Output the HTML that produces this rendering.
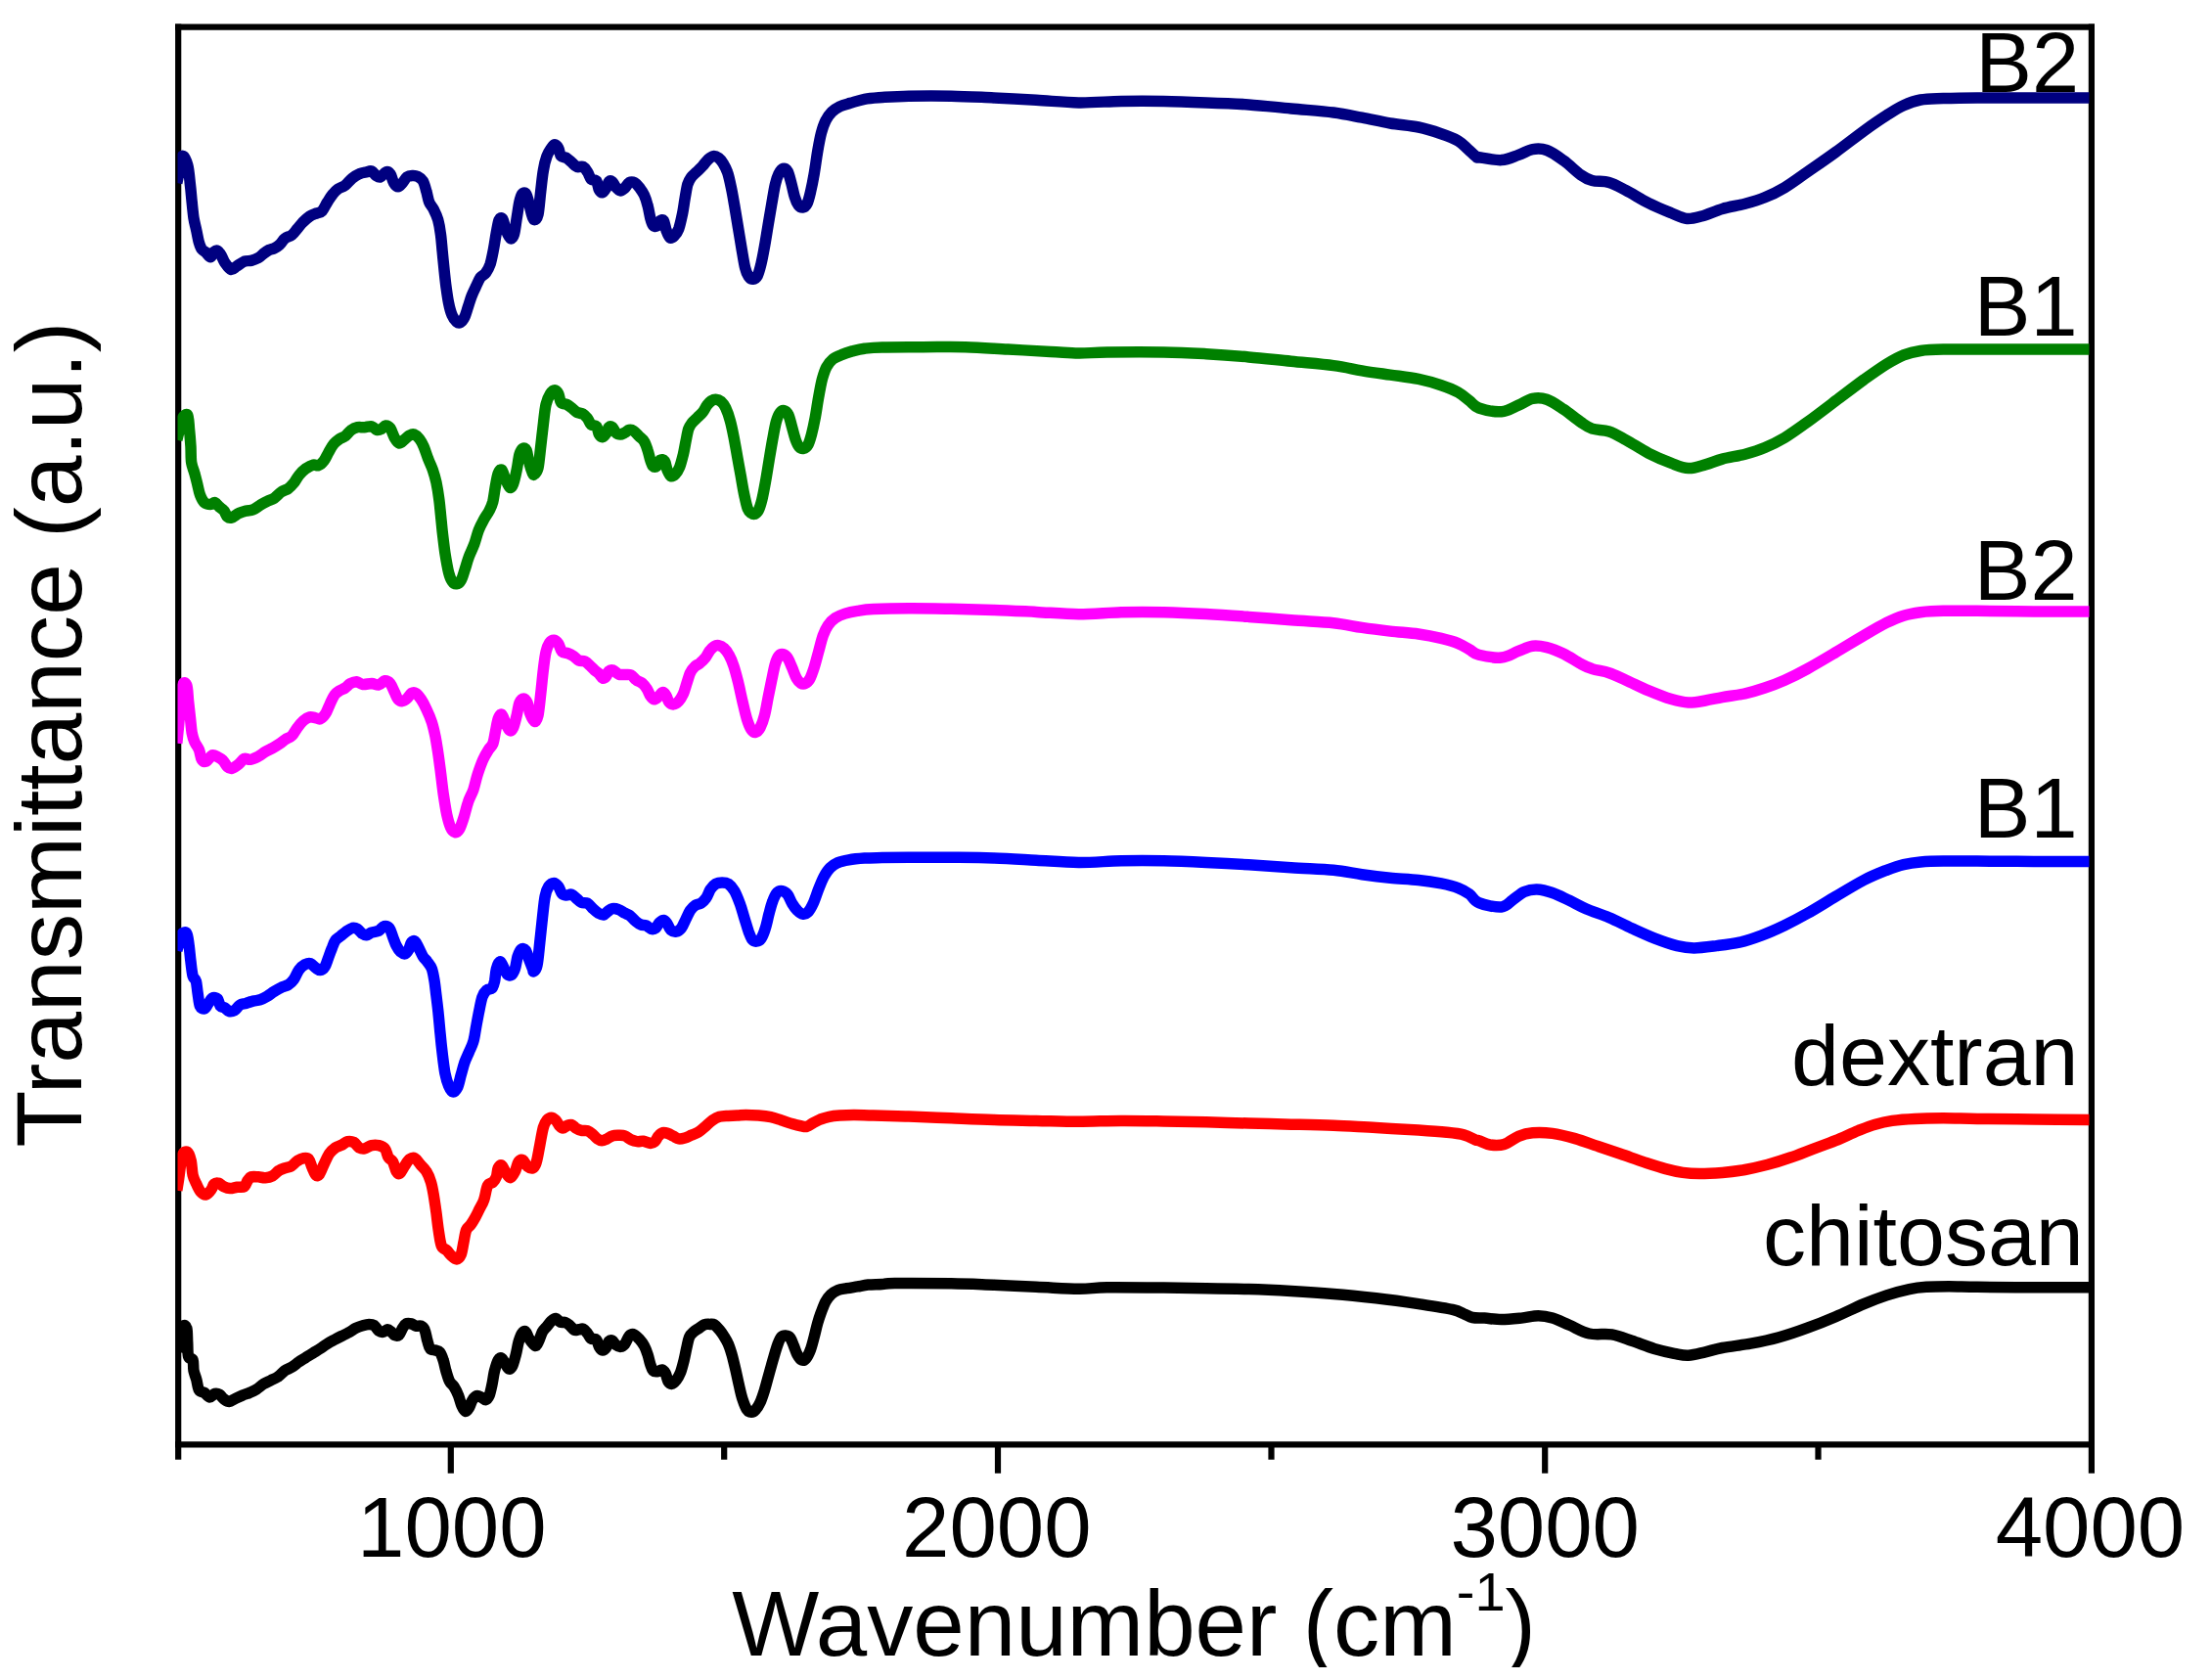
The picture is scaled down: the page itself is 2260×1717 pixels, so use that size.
<!DOCTYPE html>
<html><head><meta charset="utf-8"><title>FTIR spectra</title>
<style>
html,body{margin:0;padding:0;background:#fff;}
body{width:2260px;height:1717px;overflow:hidden;}
svg{display:block;}
text{font-family:"Liberation Sans",Arial,Helvetica,sans-serif;fill:#000;}
.t{font-size:87px;}

</style></head><body>
<svg width="2260" height="1717" viewBox="0 0 2260 1717">
<rect x="0" y="0" width="2260" height="1717" fill="#fff"/>
<defs><clipPath id="cl"><rect x="0" y="1500" width="2260" height="204"/></clipPath><clipPath id="cp"><rect x="181.5" y="27" width="1954" height="1449"/></clipPath></defs>
<g fill="none" stroke="#000" stroke-width="6.2" stroke-linecap="butt">
<path d="M179.1 27.55H2141"/>
<path d="M179.1 1476.35H2141"/>
<path d="M182.2 24.5V1491.7"/>
<path d="M2137.9 24.5V1505.8"/>
<path d="M460.8 1476V1505.8M1020 1476V1505.8M1579.2 1476V1505.8"/>
<path d="M740.2 1476V1491.7M1299.5 1476V1491.7M1858.5 1476V1491.7"/>
</g>
<g fill="none" stroke-width="11.5" stroke-linejoin="round" stroke-linecap="butt" clip-path="url(#cp)">
<path d="M180.8 1381.1C181.3 1379.3 182.5 1374.3 183.6 1370.1C184.6 1365.8 186.0 1357.7 187.2 1355.6C188.4 1353.5 190.1 1354.7 190.8 1357.4C191.6 1360.1 191.4 1367.0 191.7 1371.9C192.0 1376.7 191.7 1383.3 192.6 1386.3C193.5 1389.4 196.2 1387.5 197.1 1390.0C198.0 1392.4 197.4 1397.5 198.0 1400.8C198.6 1404.1 199.9 1406.5 200.8 1409.9C201.7 1413.2 202.1 1418.5 203.5 1420.7C204.8 1423.0 207.1 1422.2 208.9 1423.4C210.7 1424.6 212.5 1427.8 214.3 1428.0C216.1 1428.1 218.1 1424.8 219.8 1424.3C221.4 1423.9 222.8 1424.3 224.3 1425.2C225.8 1426.1 227.1 1428.6 228.8 1429.8C230.5 1431.0 232.3 1432.5 234.2 1432.5C236.2 1432.4 238.3 1430.5 240.6 1429.4C242.8 1428.3 245.4 1427.1 247.8 1426.1C250.2 1425.1 252.6 1424.5 255.0 1423.4C257.4 1422.4 259.9 1421.3 262.3 1419.8C264.7 1418.3 267.1 1415.9 269.5 1414.4C271.9 1412.9 274.3 1412.0 276.7 1410.8C279.2 1409.6 281.6 1408.8 284.0 1407.1C286.4 1405.5 288.8 1402.5 291.2 1400.8C293.6 1399.2 296.0 1398.7 298.4 1397.2C300.9 1395.7 303.3 1393.4 305.7 1391.8C308.1 1390.1 310.5 1388.8 312.9 1387.2C315.3 1385.7 317.7 1384.2 320.2 1382.7C322.6 1381.2 325.0 1379.8 327.4 1378.2C329.8 1376.6 332.2 1374.8 334.6 1373.3C337.0 1371.8 339.5 1370.5 341.9 1369.2C344.3 1367.9 346.7 1366.7 349.1 1365.5C351.5 1364.3 353.9 1363.3 356.3 1361.9C358.8 1360.6 361.2 1358.6 363.6 1357.4C366.0 1356.2 368.6 1355.3 370.8 1354.7C373.1 1354.0 375.2 1353.4 377.1 1353.4C379.1 1353.4 380.9 1353.6 382.6 1354.7C384.2 1355.8 385.6 1359.0 387.1 1360.1C388.6 1361.2 390.1 1361.6 391.6 1361.4C393.1 1361.2 394.8 1358.9 396.1 1358.8C397.5 1358.8 398.6 1360.0 399.8 1361.0C401.0 1362.0 402.0 1364.1 403.4 1364.6C404.7 1365.2 406.5 1365.5 407.9 1364.3C409.3 1363.1 410.3 1359.3 411.5 1357.4C412.7 1355.5 413.6 1353.6 415.1 1352.9C416.6 1352.1 418.9 1352.5 420.6 1352.9C422.2 1353.3 423.4 1354.8 425.1 1355.2C426.7 1355.6 429.0 1354.6 430.5 1355.2C432.0 1355.9 433.1 1356.7 434.1 1359.2C435.2 1361.7 435.9 1366.9 436.8 1370.1C437.8 1373.2 438.2 1376.5 439.6 1378.2C440.9 1379.9 443.3 1379.4 445.0 1380.0C446.6 1380.6 448.2 1380.2 449.5 1381.8C450.9 1383.5 452.1 1386.8 453.1 1390.0C454.2 1393.1 454.8 1397.2 455.8 1400.8C456.9 1404.4 458.1 1409.0 459.5 1411.7C460.8 1414.4 462.5 1414.7 464.0 1417.1C465.5 1419.5 467.2 1422.8 468.5 1426.1C469.9 1429.5 470.9 1434.3 472.1 1437.0C473.3 1439.7 474.5 1442.1 475.7 1442.4C477.0 1442.7 478.2 1440.8 479.4 1438.8C480.6 1436.8 481.6 1432.7 483.0 1430.7C484.3 1428.6 486.0 1427.0 487.5 1426.5C489.0 1426.1 490.5 1427.3 492.0 1428.0C493.5 1428.6 495.2 1431.0 496.5 1430.7C497.9 1430.4 499.1 1428.7 500.2 1426.1C501.2 1423.6 502.0 1419.5 502.9 1415.3C503.8 1411.1 504.5 1405.0 505.6 1400.8C506.7 1396.6 508.0 1392.1 509.2 1390.0C510.4 1387.8 511.6 1387.5 512.8 1388.2C514.0 1388.8 515.2 1391.8 516.4 1393.6C517.7 1395.4 518.9 1398.6 520.1 1399.0C521.3 1399.5 522.5 1398.7 523.7 1396.3C524.9 1393.9 526.2 1388.6 527.3 1384.5C528.4 1380.5 529.0 1375.5 530.0 1371.9C531.1 1368.2 532.4 1364.6 533.6 1362.8C534.8 1361.0 536.0 1360.1 537.3 1361.0C538.5 1361.9 539.2 1365.8 540.9 1368.2C542.5 1370.7 545.6 1375.2 547.2 1375.5C548.9 1375.8 549.6 1372.5 550.9 1370.1C552.1 1367.6 553.1 1363.4 554.5 1361.0C555.8 1358.6 557.5 1357.4 559.0 1355.6C560.5 1353.8 562.0 1351.5 563.5 1350.2C565.0 1348.8 566.5 1347.3 568.0 1347.4C569.5 1347.6 570.9 1350.4 572.6 1351.1C574.2 1351.8 576.3 1351.0 578.0 1351.6C579.7 1352.2 581.0 1353.4 582.5 1354.7C584.0 1355.9 585.5 1358.5 587.0 1359.2C588.5 1359.9 590.1 1359.0 591.6 1358.8C593.1 1358.7 594.6 1357.6 596.1 1358.3C597.6 1359.0 599.2 1361.2 600.6 1362.8C602.0 1364.5 602.7 1367.2 604.2 1368.2C605.7 1369.3 608.3 1367.8 609.7 1369.2C611.0 1370.5 611.3 1374.6 612.4 1376.4C613.4 1378.2 614.8 1379.9 616.0 1380.0C617.2 1380.2 618.5 1378.8 619.6 1377.3C620.7 1375.8 621.3 1372.2 622.3 1371.0C623.4 1369.8 624.7 1369.5 625.9 1370.1C627.1 1370.7 628.2 1373.5 629.6 1374.6C630.9 1375.6 632.6 1376.5 634.1 1376.4C635.6 1376.2 637.1 1375.5 638.6 1373.7C640.1 1371.9 641.6 1367.2 643.1 1365.5C644.6 1363.9 646.0 1363.3 647.6 1363.7C649.3 1364.2 651.3 1366.3 653.1 1368.2C654.9 1370.2 657.0 1372.8 658.5 1375.5C660.0 1378.2 661.1 1381.4 662.1 1384.5C663.2 1387.7 663.9 1391.8 664.8 1394.5C665.7 1397.2 666.3 1399.6 667.5 1400.8C668.8 1402.0 670.6 1401.9 672.1 1401.7C673.6 1401.6 675.2 1399.6 676.6 1399.9C677.9 1400.2 679.2 1401.6 680.2 1403.5C681.3 1405.5 681.9 1409.9 682.9 1411.7C684.0 1413.5 685.2 1414.5 686.5 1414.4C687.9 1414.2 689.6 1412.7 691.1 1410.8C692.6 1408.8 694.2 1406.1 695.6 1402.6C696.9 1399.2 698.1 1394.2 699.2 1390.0C700.3 1385.7 701.0 1381.2 701.9 1377.3C702.8 1373.4 703.4 1369.2 704.6 1366.4C705.8 1363.7 707.5 1362.5 709.2 1361.0C710.8 1359.5 712.8 1358.6 714.6 1357.4C716.4 1356.2 718.2 1354.4 720.0 1353.8C721.8 1353.1 723.8 1353.4 725.4 1353.4C727.1 1353.4 728.3 1352.8 730.0 1353.8C731.6 1354.7 733.7 1357.2 735.4 1359.2C737.0 1361.2 738.4 1363.1 739.9 1365.5C741.4 1367.9 743.1 1370.5 744.4 1373.7C745.8 1376.8 746.8 1380.3 748.1 1384.5C749.3 1388.8 750.5 1393.9 751.7 1399.0C752.9 1404.1 754.1 1410.2 755.3 1415.3C756.5 1420.4 757.5 1425.5 758.9 1429.8C760.3 1434.0 761.9 1438.4 763.4 1440.6C764.9 1442.9 766.4 1443.3 768.0 1443.3C769.5 1443.3 771.0 1442.3 772.5 1440.6C774.0 1439.0 775.5 1436.7 777.0 1433.4C778.5 1430.1 780.0 1425.5 781.5 1420.7C783.0 1415.9 784.5 1409.9 786.0 1404.4C787.6 1399.0 789.1 1393.3 790.6 1388.2C792.1 1383.0 793.7 1377.3 795.1 1373.7C796.4 1370.1 797.3 1367.9 798.7 1366.4C800.1 1365.0 801.7 1364.8 803.2 1365.0C804.7 1365.1 806.4 1365.6 807.8 1367.3C809.1 1369.1 810.2 1372.6 811.4 1375.5C812.6 1378.4 813.6 1382.1 815.0 1384.5C816.3 1386.9 818.0 1389.4 819.5 1390.0C821.0 1390.6 822.5 1390.0 824.0 1388.2C825.5 1386.3 827.2 1382.7 828.6 1379.1C829.9 1375.5 831.0 1371.0 832.2 1366.4C833.4 1361.9 834.6 1356.2 835.8 1352.0C837.0 1347.7 838.1 1344.7 839.4 1341.1C840.8 1337.5 842.3 1333.3 843.9 1330.3C845.6 1327.2 847.3 1325.0 849.4 1323.0C851.5 1321.1 853.9 1319.6 856.6 1318.5C859.3 1317.4 862.3 1317.3 865.6 1316.7C869.0 1316.1 872.9 1315.5 876.5 1314.9C880.1 1314.3 883.1 1313.5 887.4 1313.1C891.6 1312.7 897.3 1312.8 901.8 1312.5C906.3 1312.3 902.7 1311.6 914.5 1311.5C926.2 1311.4 955.5 1311.5 972.4 1311.8C989.3 1312.1 1001.3 1312.7 1015.8 1313.2C1030.3 1313.8 1044.7 1314.6 1059.2 1315.3C1073.7 1315.9 1090.6 1317.2 1102.6 1317.3C1114.7 1317.4 1117.1 1316.0 1131.6 1315.8C1146.0 1315.6 1172.6 1316.0 1189.5 1316.1C1206.3 1316.3 1218.4 1316.5 1232.9 1316.7C1247.4 1316.9 1261.8 1317.1 1276.3 1317.6C1290.8 1318.1 1305.2 1318.8 1319.7 1319.6C1334.2 1320.4 1348.7 1321.3 1363.1 1322.5C1377.6 1323.7 1392.1 1325.2 1406.6 1326.8C1421.0 1328.5 1437.0 1330.7 1450.0 1332.6C1463.0 1334.6 1477.0 1336.7 1484.7 1338.4C1492.4 1340.1 1492.9 1341.4 1496.3 1342.8C1499.7 1344.1 1501.5 1345.8 1505.0 1346.5C1508.5 1347.2 1512.4 1346.8 1517.4 1347.1C1522.3 1347.4 1528.5 1348.5 1534.7 1348.5C1541.0 1348.5 1548.7 1347.7 1555.0 1347.1C1561.3 1346.5 1567.1 1344.8 1572.4 1344.8C1577.7 1344.8 1581.5 1345.5 1586.8 1347.1C1592.1 1348.7 1597.9 1351.7 1604.2 1354.3C1610.5 1357.0 1617.2 1361.4 1624.5 1363.0C1631.7 1364.6 1640.4 1362.7 1647.6 1363.9C1654.9 1365.1 1660.7 1367.8 1667.9 1370.3C1675.1 1372.7 1683.8 1376.2 1691.0 1378.4C1698.3 1380.5 1705.5 1382.1 1711.3 1383.3C1717.1 1384.4 1720.5 1385.6 1725.8 1385.3C1731.1 1385.1 1737.4 1383.1 1743.1 1381.8C1748.9 1380.5 1752.8 1378.9 1760.5 1377.5C1768.2 1376.0 1779.8 1374.9 1789.5 1373.2C1799.1 1371.4 1808.8 1369.4 1818.4 1366.8C1828.1 1364.1 1837.7 1360.8 1847.4 1357.2C1857.0 1353.7 1866.7 1349.8 1876.3 1345.7C1885.9 1341.6 1896.6 1336.2 1905.2 1332.6C1913.9 1329.0 1920.7 1326.5 1928.4 1323.9C1936.1 1321.4 1944.8 1319.0 1951.6 1317.6C1958.3 1316.1 1962.2 1315.7 1968.9 1315.3C1975.7 1314.8 1983.4 1314.7 1992.1 1314.7C2000.8 1314.7 2006.6 1315.1 2021.0 1315.3C2035.5 1315.5 2059.1 1315.7 2078.9 1315.8C2098.8 1315.9 2129.5 1315.8 2140.0 1315.8C2150.5 1315.8 2141.7 1315.8 2142.0 1315.8" stroke="#000000"/>
<path d="M180.8 1216.7C181.1 1214.7 181.8 1210.6 182.7 1204.6C183.6 1198.7 184.8 1185.6 186.3 1181.1C187.8 1176.6 190.2 1176.6 191.7 1177.5C193.2 1178.4 194.4 1182.6 195.3 1186.5C196.2 1190.5 196.2 1197.1 197.1 1201.0C198.0 1204.9 199.4 1207.2 200.8 1210.1C202.1 1212.9 203.6 1216.4 205.3 1218.2C206.9 1220.0 208.9 1221.4 210.7 1220.9C212.5 1220.5 214.8 1217.3 216.1 1215.5C217.5 1213.7 217.6 1211.1 218.8 1210.1C220.1 1209.0 221.7 1208.7 223.4 1209.2C225.0 1209.6 226.8 1211.9 228.8 1212.8C230.8 1213.7 232.9 1214.5 235.1 1214.6C237.4 1214.7 240.0 1213.6 242.4 1213.3C244.8 1213.0 247.8 1213.9 249.6 1212.8C251.4 1211.6 252.0 1208.1 253.2 1206.4C254.4 1204.8 255.0 1203.4 256.8 1202.8C258.6 1202.2 261.7 1202.7 264.1 1202.8C266.5 1203.0 268.9 1203.9 271.3 1203.7C273.7 1203.6 276.3 1203.1 278.5 1201.9C280.8 1200.7 282.8 1197.8 284.9 1196.5C287.0 1195.1 289.1 1194.5 291.2 1193.8C293.3 1193.0 295.4 1193.2 297.5 1192.0C299.7 1190.8 301.8 1187.9 303.9 1186.5C306.0 1185.2 308.2 1184.1 310.2 1183.8C312.2 1183.5 314.1 1183.1 315.6 1184.7C317.1 1186.4 318.0 1191.1 319.3 1193.8C320.5 1196.5 321.7 1200.0 322.9 1201.0C324.1 1202.1 325.1 1201.9 326.5 1200.1C327.8 1198.3 329.4 1193.6 331.0 1190.2C332.7 1186.7 334.5 1182.2 336.4 1179.3C338.4 1176.4 340.7 1174.5 342.8 1173.0C344.9 1171.5 347.0 1171.3 349.1 1170.3C351.2 1169.2 353.3 1167.1 355.4 1166.6C357.5 1166.2 359.8 1166.5 361.8 1167.5C363.7 1168.6 365.4 1171.9 367.2 1173.0C369.0 1174.0 370.5 1174.3 372.6 1173.9C374.7 1173.5 377.4 1171.2 379.9 1170.6C382.3 1170.1 384.8 1170.1 387.1 1170.6C389.4 1171.2 391.8 1171.8 393.4 1173.9C395.1 1175.9 395.7 1180.7 397.0 1182.9C398.4 1185.2 400.2 1185.0 401.6 1187.4C402.9 1189.9 404.0 1195.4 405.2 1197.4C406.4 1199.4 407.4 1200.1 408.8 1199.2C410.2 1198.3 411.7 1194.4 413.3 1192.0C415.0 1189.6 416.9 1186.1 418.8 1184.7C420.6 1183.4 422.4 1182.9 424.2 1183.8C426.0 1184.7 427.7 1187.9 429.6 1190.2C431.6 1192.4 434.1 1194.4 435.9 1197.4C437.8 1200.4 439.3 1204.3 440.5 1208.2C441.7 1212.2 442.3 1215.8 443.2 1220.9C444.1 1226.0 445.0 1233.0 445.9 1239.0C446.7 1245.0 447.3 1251.4 448.2 1257.1C449.1 1262.8 449.9 1269.9 451.3 1273.4C452.7 1276.8 455.1 1276.2 456.7 1277.9C458.4 1279.6 459.6 1281.8 461.3 1283.3C462.9 1284.8 465.0 1287.1 466.7 1286.9C468.4 1286.8 470.0 1285.3 471.2 1282.4C472.4 1279.6 473.0 1274.0 473.9 1269.8C474.8 1265.5 475.4 1260.1 476.6 1257.1C477.9 1254.1 479.7 1253.8 481.2 1251.7C482.7 1249.6 484.2 1247.1 485.7 1244.4C487.2 1241.7 488.7 1238.4 490.2 1235.4C491.7 1232.4 493.4 1230.3 494.7 1226.3C496.1 1222.4 496.9 1214.9 498.4 1211.9C499.9 1208.9 502.3 1209.8 503.8 1208.2C505.3 1206.7 506.5 1205.2 507.4 1202.8C508.3 1200.4 508.3 1195.7 509.2 1193.8C510.1 1191.8 511.5 1190.2 512.8 1191.1C514.2 1192.0 515.8 1197.1 517.4 1199.2C518.9 1201.3 520.4 1204.0 521.9 1203.7C523.4 1203.4 525.0 1200.1 526.4 1197.4C527.8 1194.7 528.7 1189.4 530.0 1187.4C531.4 1185.5 533.0 1184.9 534.5 1185.6C536.0 1186.4 537.4 1190.6 539.1 1192.0C540.7 1193.3 543.0 1194.4 544.5 1193.8C546.0 1193.2 546.9 1192.3 548.1 1188.3C549.4 1184.4 550.6 1176.3 551.8 1170.3C553.0 1164.2 554.2 1156.4 555.4 1152.2C556.6 1147.9 557.6 1146.6 559.0 1144.9C560.4 1143.3 562.0 1142.2 563.5 1142.2C565.0 1142.2 566.7 1143.6 568.0 1144.9C569.4 1146.3 570.5 1149.0 571.7 1150.4C572.9 1151.7 573.9 1153.1 575.3 1153.1C576.6 1153.1 578.3 1151.0 579.8 1150.4C581.3 1149.8 582.8 1149.0 584.3 1149.5C585.8 1149.9 587.2 1152.1 588.8 1153.1C590.5 1154.1 592.3 1155.0 594.3 1155.4C596.2 1155.9 598.6 1155.1 600.6 1155.8C602.6 1156.4 604.4 1158.0 606.0 1159.4C607.7 1160.8 609.0 1162.9 610.6 1163.9C612.1 1165.0 613.4 1165.7 615.1 1165.7C616.7 1165.7 618.7 1164.7 620.5 1163.9C622.3 1163.1 624.0 1161.5 625.9 1160.9C627.9 1160.2 630.2 1160.3 632.3 1160.3C634.4 1160.3 636.5 1160.1 638.6 1160.9C640.7 1161.6 642.8 1163.9 644.9 1164.8C647.0 1165.8 649.2 1166.4 651.3 1166.6C653.4 1166.9 655.3 1166.0 657.6 1166.3C659.9 1166.6 662.9 1168.4 664.8 1168.4C666.8 1168.5 668.0 1167.8 669.4 1166.6C670.7 1165.4 671.6 1162.7 673.0 1161.2C674.3 1159.7 675.8 1158.0 677.5 1157.6C679.2 1157.1 681.1 1157.9 682.9 1158.5C684.7 1159.1 686.5 1160.3 688.3 1161.2C690.2 1162.1 691.8 1163.6 693.8 1163.9C695.7 1164.2 698.0 1163.6 700.1 1163.0C702.2 1162.4 704.2 1161.3 706.4 1160.3C708.7 1159.3 711.3 1158.7 713.7 1157.2C716.1 1155.7 718.5 1153.3 720.9 1151.3C723.3 1149.2 725.7 1146.6 728.2 1144.9C730.6 1143.3 732.7 1142.1 735.4 1141.3C738.1 1140.6 741.4 1140.6 744.4 1140.4C747.4 1140.2 750.5 1140.2 753.5 1140.0C756.5 1139.9 758.9 1139.5 762.5 1139.5C766.1 1139.5 771.0 1139.7 775.2 1140.0C779.4 1140.4 783.9 1140.9 787.9 1141.7C791.8 1142.5 795.1 1143.8 798.7 1144.9C802.3 1146.1 806.2 1147.6 809.6 1148.5C812.9 1149.5 816.0 1150.3 818.6 1150.7C821.2 1151.2 822.8 1151.8 824.9 1151.3C827.0 1150.7 829.0 1148.8 831.3 1147.6C833.5 1146.4 835.8 1145.1 838.5 1144.0C841.2 1143.0 844.2 1142.0 847.6 1141.3C850.9 1140.6 854.2 1140.3 858.4 1140.0C862.6 1139.7 867.2 1139.5 872.9 1139.5C878.6 1139.5 883.4 1139.8 892.8 1140.0C902.1 1140.3 915.7 1140.6 928.9 1141.0C942.2 1141.5 957.9 1142.2 972.4 1142.8C986.8 1143.4 1001.3 1144.1 1015.8 1144.5C1030.3 1145.0 1044.7 1145.1 1059.2 1145.4C1073.7 1145.7 1088.2 1146.3 1102.6 1146.3C1117.1 1146.3 1131.6 1145.4 1146.0 1145.4C1160.5 1145.3 1175.0 1145.7 1189.5 1146.0C1203.9 1146.2 1218.4 1146.5 1232.9 1146.8C1247.4 1147.2 1261.8 1147.6 1276.3 1148.0C1290.8 1148.4 1305.2 1148.8 1319.7 1149.2C1334.2 1149.5 1348.7 1149.7 1363.1 1150.3C1377.6 1150.9 1392.1 1151.9 1406.6 1152.6C1421.0 1153.4 1437.9 1154.2 1450.0 1154.9C1462.0 1155.7 1471.2 1156.4 1478.9 1157.3C1486.6 1158.1 1491.5 1158.6 1496.3 1159.9C1501.1 1161.1 1505.3 1163.8 1507.9 1164.8C1510.4 1165.8 1509.0 1164.8 1511.6 1165.7C1514.1 1166.5 1518.8 1169.4 1523.2 1170.0C1527.5 1170.6 1532.8 1170.9 1537.6 1169.4C1542.5 1168.0 1547.3 1163.2 1552.1 1161.3C1556.9 1159.4 1560.8 1158.3 1566.6 1157.8C1572.4 1157.4 1579.6 1157.5 1586.8 1158.4C1594.1 1159.4 1602.3 1161.5 1610.0 1163.6C1617.7 1165.8 1625.4 1168.8 1633.2 1171.4C1640.9 1174.0 1648.6 1176.6 1656.3 1179.3C1664.0 1181.9 1671.7 1184.8 1679.5 1187.4C1687.2 1189.9 1695.9 1192.8 1702.6 1194.6C1709.4 1196.4 1714.2 1197.5 1720.0 1198.4C1725.8 1199.2 1730.6 1199.5 1737.4 1199.5C1744.1 1199.5 1752.8 1199.0 1760.5 1198.4C1768.2 1197.7 1776.0 1196.8 1783.7 1195.5C1791.4 1194.1 1799.1 1192.3 1806.8 1190.3C1814.5 1188.2 1822.3 1185.7 1830.0 1183.0C1837.7 1180.4 1845.4 1177.2 1853.1 1174.3C1860.9 1171.4 1868.6 1168.8 1876.3 1165.7C1884.0 1162.5 1892.7 1158.3 1899.5 1155.5C1906.2 1152.8 1911.0 1150.8 1916.8 1149.2C1922.6 1147.5 1927.4 1146.4 1934.2 1145.4C1940.9 1144.4 1948.7 1143.8 1957.3 1143.4C1966.0 1142.9 1975.7 1142.8 1986.3 1142.8C1996.9 1142.8 2005.6 1143.2 2021.0 1143.4C2036.5 1143.6 2059.1 1143.8 2078.9 1143.9C2098.8 1144.1 2129.5 1144.4 2140.0 1144.5C2150.5 1144.6 2141.7 1144.5 2142.0 1144.5" stroke="#ff0000"/>
<path d="M180.8 971.7C181.1 970.5 181.9 967.6 182.7 964.8C183.4 962.0 184.0 956.7 185.4 954.9C186.7 953.1 189.5 952.0 190.8 954.0C192.1 955.9 192.5 961.8 193.2 966.6C193.9 971.5 194.3 977.8 195.0 982.9C195.6 988.0 196.2 994.1 197.1 997.4C198.0 1000.7 199.5 999.8 200.4 1002.8C201.2 1005.8 201.5 1011.3 202.2 1015.5C202.9 1019.7 203.3 1025.6 204.4 1028.2C205.5 1030.7 207.5 1031.2 208.9 1030.9C210.3 1030.6 211.2 1028.2 212.5 1026.3C213.9 1024.5 215.4 1020.9 217.0 1020.0C218.7 1019.1 221.1 1019.6 222.5 1020.9C223.8 1022.3 224.0 1026.6 225.2 1028.2C226.4 1029.7 228.2 1029.1 229.7 1030.0C231.2 1030.9 232.6 1033.1 234.2 1033.6C235.9 1034.0 237.8 1033.7 239.7 1032.7C241.5 1031.6 243.1 1028.5 245.1 1027.2C247.0 1026.0 249.1 1026.1 251.4 1025.4C253.7 1024.7 256.2 1023.7 258.6 1023.1C261.1 1022.5 263.5 1022.6 265.9 1021.8C268.3 1021.0 270.7 1019.6 273.1 1018.2C275.5 1016.8 277.9 1014.8 280.4 1013.3C282.8 1011.8 285.2 1010.3 287.6 1009.2C290.0 1008.0 292.7 1007.8 294.8 1006.4C296.9 1005.1 298.4 1003.6 300.3 1001.0C302.1 998.5 303.7 993.6 305.7 991.1C307.6 988.5 310.1 986.7 312.0 985.6C314.0 984.6 315.6 984.1 317.4 984.7C319.3 985.3 321.2 988.1 322.9 989.3C324.5 990.4 325.9 991.8 327.4 991.6C328.9 991.5 330.6 990.4 331.9 988.3C333.3 986.3 334.3 982.5 335.5 979.3C336.7 976.1 337.9 972.4 339.2 969.4C340.4 966.3 341.3 963.3 342.8 961.2C344.3 959.1 346.4 958.2 348.2 956.7C350.0 955.2 351.7 953.5 353.6 952.2C355.6 950.8 358.0 949.0 360.0 948.5C361.9 948.1 363.7 948.5 365.4 949.5C367.0 950.4 368.4 952.9 369.9 954.0C371.4 955.0 372.8 955.9 374.4 955.8C376.1 955.6 377.7 953.8 379.9 953.1C382.0 952.3 385.0 952.3 387.1 951.3C389.2 950.2 390.7 947.2 392.5 946.7C394.3 946.3 396.4 946.7 398.0 948.5C399.5 950.4 400.4 954.6 401.6 957.6C402.8 960.6 403.8 964.1 405.2 966.6C406.5 969.2 408.2 971.6 409.7 973.0C411.2 974.3 412.9 975.2 414.2 974.8C415.6 974.3 416.8 972.2 417.9 970.3C418.9 968.3 419.5 964.4 420.6 963.0C421.6 961.7 423.0 961.2 424.2 962.1C425.4 963.0 426.4 965.9 427.8 968.4C429.2 971.0 430.8 975.1 432.3 977.5C433.8 979.9 435.3 980.8 436.8 982.9C438.4 985.0 440.2 986.8 441.4 990.2C442.6 993.5 443.3 998.3 444.1 1002.8C444.8 1007.3 445.2 1011.6 445.9 1017.3C446.6 1023.0 447.6 1030.6 448.2 1037.2C448.9 1043.8 449.4 1050.5 450.1 1057.1C450.7 1063.7 451.4 1070.4 452.2 1077.0C453.0 1083.6 453.9 1091.5 454.9 1096.9C456.0 1102.3 457.2 1106.4 458.6 1109.6C459.9 1112.7 461.6 1115.6 463.1 1115.9C464.6 1116.2 466.2 1114.2 467.6 1111.4C469.0 1108.5 470.0 1102.9 471.2 1098.7C472.4 1094.5 473.5 1090.0 474.8 1086.0C476.2 1082.1 477.9 1078.8 479.4 1075.2C480.9 1071.6 482.7 1068.6 483.9 1064.3C485.1 1060.1 485.7 1054.7 486.6 1049.9C487.5 1045.0 488.3 1040.5 489.3 1035.4C490.4 1030.3 491.6 1023.0 492.9 1019.1C494.3 1015.2 495.8 1013.4 497.5 1011.9C499.1 1010.4 501.5 1011.6 502.9 1010.1C504.2 1008.6 504.8 1006.1 505.6 1002.8C506.3 999.5 506.5 993.5 507.4 990.2C508.3 986.8 509.8 983.2 511.0 982.9C512.2 982.6 513.4 986.2 514.6 988.3C515.8 990.5 516.9 994.2 518.3 995.6C519.6 996.9 521.4 997.4 522.8 996.5C524.1 995.6 525.3 993.3 526.4 990.2C527.5 987.0 528.1 980.8 529.1 977.5C530.2 974.2 531.4 971.3 532.7 970.3C534.1 969.2 535.9 969.4 537.3 971.2C538.6 973.0 539.7 977.9 540.9 981.1C542.1 984.3 543.7 988.2 544.5 990.2C545.3 992.1 544.7 993.5 545.4 992.9C546.2 992.3 548.0 991.5 549.0 986.5C550.1 981.6 550.9 971.2 551.8 963.0C552.7 954.9 553.6 945.5 554.5 937.7C555.4 929.9 556.1 921.3 557.2 916.0C558.2 910.7 559.3 908.3 560.8 906.0C562.3 903.8 564.6 902.4 566.2 902.4C567.9 902.4 569.4 904.2 570.8 906.0C572.1 907.8 573.0 911.8 574.4 913.3C575.7 914.8 577.2 914.9 578.9 915.1C580.6 915.2 582.5 913.6 584.3 914.2C586.1 914.8 588.1 917.3 589.8 918.7C591.4 920.1 592.5 921.6 594.3 922.3C596.1 923.1 598.6 922.2 600.6 923.2C602.6 924.3 604.2 927.0 606.0 928.6C607.8 930.3 609.7 932.1 611.5 933.2C613.3 934.2 615.2 935.3 616.9 935.0C618.5 934.7 619.9 932.4 621.4 931.4C622.9 930.3 624.1 928.9 625.9 928.6C627.7 928.3 630.2 928.8 632.3 929.6C634.4 930.3 636.6 932.1 638.6 933.2C640.6 934.2 642.2 934.5 644.0 935.9C645.8 937.2 647.6 939.8 649.5 941.3C651.3 942.8 653.1 944.2 654.9 944.9C656.7 945.7 658.5 945.1 660.3 945.8C662.1 946.6 664.1 949.0 665.7 949.5C667.4 949.9 668.9 949.6 670.3 948.5C671.6 947.5 672.5 944.5 673.9 943.1C675.2 941.8 677.0 940.3 678.4 940.4C679.8 940.6 680.8 942.4 682.0 944.0C683.2 945.7 684.1 949.0 685.6 950.4C687.1 951.7 689.3 952.5 691.1 952.2C692.9 951.9 694.8 950.7 696.5 948.5C698.1 946.4 699.5 942.5 701.0 939.5C702.5 936.5 703.9 932.9 705.5 930.5C707.2 928.0 709.2 926.2 711.0 925.0C712.8 923.8 714.6 924.4 716.4 923.2C718.2 922.0 720.2 920.2 721.8 917.8C723.5 915.4 724.7 911.2 726.3 908.7C728.0 906.3 729.8 904.5 731.8 903.3C733.7 902.2 736.0 901.9 738.1 901.9C740.2 901.9 742.3 901.9 744.4 903.3C746.5 904.8 748.8 907.2 750.8 910.6C752.7 913.9 754.5 918.7 756.2 923.2C757.9 927.7 759.2 932.9 760.7 937.7C762.2 942.5 763.9 948.4 765.2 952.2C766.6 955.9 767.5 958.6 768.9 960.3C770.2 962.0 771.9 962.3 773.4 962.1C774.9 962.0 776.4 961.7 777.9 959.4C779.4 957.1 781.1 952.8 782.4 948.5C783.8 944.3 784.8 938.6 786.0 934.1C787.2 929.6 788.3 925.0 789.7 921.4C791.0 917.8 792.5 914.2 794.2 912.4C795.8 910.6 797.8 910.3 799.6 910.6C801.4 910.9 803.4 912.1 805.0 914.2C806.7 916.3 807.9 920.5 809.6 923.2C811.2 925.9 813.2 928.6 815.0 930.5C816.8 932.3 818.6 933.8 820.4 934.1C822.2 934.4 824.0 934.1 825.8 932.3C827.7 930.5 829.5 927.1 831.3 923.2C833.1 919.3 834.9 913.3 836.7 908.7C838.5 904.2 840.2 899.7 842.1 896.1C844.1 892.5 846.0 889.4 848.5 887.0C850.9 884.6 853.4 883.0 856.6 881.6C859.8 880.3 862.9 879.7 867.5 878.9C872.0 878.1 878.0 877.5 883.7 877.1C889.5 876.7 894.3 876.7 901.8 876.5C909.4 876.4 917.2 876.4 928.9 876.3C940.7 876.3 957.9 876.2 972.4 876.3C986.8 876.4 1001.3 876.4 1015.8 876.9C1030.3 877.4 1044.7 878.4 1059.2 879.2C1073.7 880.0 1088.2 881.4 1102.6 881.5C1117.1 881.6 1131.6 880.1 1146.0 879.8C1160.5 879.5 1175.0 879.5 1189.5 879.8C1203.9 880.1 1218.4 880.8 1232.9 881.5C1247.4 882.2 1261.8 883.0 1276.3 883.8C1290.8 884.7 1305.2 885.8 1319.7 886.7C1334.2 887.7 1351.1 888.2 1363.1 889.3C1375.2 890.5 1382.4 892.4 1392.1 893.7C1401.7 895.0 1411.4 896.2 1421.0 897.2C1430.7 898.1 1441.3 898.5 1450.0 899.5C1458.7 900.4 1466.4 901.6 1473.1 902.9C1479.9 904.3 1485.7 905.7 1490.5 907.6C1495.3 909.4 1498.6 911.4 1502.1 913.9C1505.6 916.5 1506.1 920.5 1511.6 922.6C1517.0 924.8 1528.9 927.5 1534.7 927.0C1540.5 926.5 1542.5 922.3 1546.3 919.7C1550.2 917.2 1553.8 913.4 1557.9 911.6C1562.0 909.8 1566.1 908.9 1570.9 909.0C1575.7 909.2 1581.3 910.6 1586.8 912.5C1592.4 914.4 1598.4 917.6 1604.2 920.3C1610.0 923.1 1614.8 926.1 1621.6 929.0C1628.3 931.9 1637.0 934.4 1644.7 937.7C1652.4 941.0 1660.2 945.2 1667.9 948.7C1675.6 952.2 1683.3 955.8 1691.0 958.8C1698.8 961.8 1707.4 964.9 1714.2 966.6C1721.0 968.3 1724.8 968.9 1731.6 968.9C1738.3 968.9 1747.0 967.6 1754.7 966.6C1762.4 965.7 1770.2 964.9 1777.9 963.2C1785.6 961.4 1793.3 958.8 1801.0 955.9C1808.8 953.0 1816.5 949.5 1824.2 945.8C1831.9 942.1 1838.7 938.5 1847.4 933.6C1856.0 928.7 1866.7 922.0 1876.3 916.3C1885.9 910.6 1896.6 904.0 1905.2 899.5C1913.9 895.0 1921.6 892.0 1928.4 889.3C1935.2 886.7 1940.0 884.9 1945.8 883.6C1951.6 882.2 1956.4 881.5 1963.1 880.9C1969.9 880.4 1976.6 880.2 1986.3 880.1C1995.9 879.9 2005.6 880.0 2021.0 880.1C2036.5 880.1 2059.1 880.3 2078.9 880.4C2098.8 880.4 2129.5 880.4 2140.0 880.4C2150.5 880.4 2141.7 880.4 2142.0 880.4" stroke="#0000ff"/>
<path d="M180.8 759.7C181.1 756.5 181.8 749.8 182.7 740.2C183.6 730.6 184.9 708.8 186.3 702.2C187.6 695.5 189.7 697.9 190.8 700.4C191.9 702.8 192.0 711.2 192.6 716.6C193.2 722.1 193.8 727.5 194.4 732.9C195.0 738.3 195.5 745.0 196.2 749.2C197.0 753.4 197.7 755.4 198.9 758.2C200.2 761.1 202.3 763.4 203.5 766.4C204.7 769.4 205.0 774.4 206.2 776.3C207.4 778.3 208.9 778.9 210.7 778.2C212.5 777.4 215.1 772.6 217.0 771.8C219.0 771.1 220.7 772.7 222.5 773.6C224.3 774.5 226.2 775.6 227.9 777.2C229.6 778.9 230.9 782.2 232.4 783.6C233.9 784.9 235.0 785.8 236.9 785.4C238.9 784.9 242.1 782.5 244.2 780.9C246.3 779.2 247.6 776.2 249.6 775.4C251.6 774.7 253.5 776.7 255.9 776.3C258.3 775.9 261.5 774.4 264.1 773.1C266.6 771.7 268.9 769.6 271.3 768.2C273.7 766.8 276.1 765.9 278.5 764.6C281.0 763.2 283.5 761.6 285.8 760.1C288.0 758.6 290.0 756.9 292.1 755.5C294.2 754.2 296.5 753.9 298.4 751.9C300.4 750.0 301.9 746.3 303.9 743.8C305.8 741.2 308.1 738.3 310.2 736.5C312.3 734.7 314.4 733.4 316.5 732.9C318.7 732.5 321.1 733.5 322.9 733.8C324.7 734.1 325.7 735.5 327.4 734.7C329.1 734.0 331.2 731.9 332.8 729.3C334.5 726.7 335.8 722.5 337.3 719.4C338.9 716.2 340.2 712.6 341.9 710.3C343.5 708.0 345.5 707.0 347.3 705.8C349.1 704.6 350.9 704.3 352.7 703.1C354.5 701.9 356.2 699.6 358.2 698.5C360.1 697.5 362.4 696.6 364.5 696.7C366.6 696.9 368.3 699.2 370.8 699.5C373.4 699.8 377.1 698.5 379.9 698.5C382.6 698.6 384.8 700.4 387.1 700.0C389.4 699.5 391.5 696.1 393.4 695.8C395.4 695.6 397.2 696.6 398.9 698.5C400.5 700.5 402.0 704.9 403.4 707.6C404.7 710.3 405.6 713.3 407.0 714.8C408.4 716.3 410.0 716.8 411.5 716.6C413.0 716.5 414.5 715.3 416.0 713.9C417.6 712.6 419.1 709.4 420.6 708.5C422.1 707.6 423.4 707.4 425.1 708.5C426.7 709.6 428.7 712.1 430.5 714.8C432.3 717.5 434.1 720.9 435.9 724.8C437.8 728.7 439.9 733.7 441.4 738.3C442.9 743.0 443.9 747.7 445.0 752.8C446.0 757.9 446.8 763.1 447.7 769.1C448.6 775.1 449.5 782.1 450.4 789.0C451.3 795.9 452.1 803.5 453.1 810.7C454.2 818.0 455.5 826.7 456.7 832.4C458.0 838.2 459.0 842.1 460.4 845.1C461.7 848.1 463.4 850.1 464.9 850.5C466.4 851.0 467.9 850.2 469.4 847.8C470.9 845.4 472.4 840.7 473.9 836.0C475.4 831.4 476.8 824.6 478.5 819.8C480.1 814.9 482.2 811.9 483.9 807.1C485.5 802.3 486.7 795.9 488.4 790.8C490.1 785.7 492.0 780.4 493.8 776.3C495.6 772.3 497.6 769.1 499.3 766.4C500.9 763.7 502.6 763.2 503.8 760.1C505.0 756.9 505.6 751.6 506.5 747.4C507.4 743.2 508.2 737.6 509.2 734.7C510.3 731.9 511.6 729.6 512.8 730.2C514.0 730.8 515.1 735.6 516.4 738.3C517.8 741.1 519.6 745.6 521.0 746.5C522.3 747.4 523.4 746.3 524.6 743.8C525.8 741.2 527.2 735.3 528.2 731.1C529.3 726.9 529.7 721.3 530.9 718.4C532.1 715.6 534.1 713.9 535.4 713.9C536.8 713.9 538.0 715.9 539.1 718.4C540.1 721.0 540.6 726.1 541.8 729.3C543.0 732.5 545.0 737.1 546.3 737.4C547.7 737.7 548.9 735.8 550.0 731.1C551.0 726.4 551.8 717.2 552.7 709.4C553.6 701.6 554.5 691.3 555.4 684.1C556.3 676.8 557.0 670.5 558.1 666.0C559.1 661.5 560.4 658.9 561.7 656.9C563.1 655.0 564.7 654.1 566.2 654.2C567.7 654.4 569.4 655.9 570.8 657.8C572.1 659.8 572.7 664.3 574.4 666.0C576.0 667.6 578.7 667.0 580.7 667.8C582.7 668.5 584.3 669.3 586.1 670.5C587.9 671.7 589.6 674.1 591.6 675.0C593.5 675.9 595.9 675.0 597.9 675.9C599.9 676.8 601.7 678.9 603.3 680.5C605.0 682.0 606.3 683.6 607.8 685.0C609.4 686.3 611.0 687.2 612.4 688.6C613.7 690.0 614.8 692.7 616.0 693.1C617.2 693.6 618.5 692.5 619.6 691.3C620.7 690.1 621.1 686.9 622.3 685.9C623.5 684.8 625.2 684.4 626.8 685.0C628.5 685.5 630.3 688.4 632.3 689.1C634.2 689.9 636.5 689.4 638.6 689.5C640.7 689.6 643.0 689.0 644.9 689.9C646.9 690.8 648.4 693.5 650.4 694.9C652.3 696.4 654.9 697.0 656.7 698.5C658.5 700.1 659.9 701.9 661.2 704.0C662.6 706.1 663.6 709.4 664.8 711.2C666.0 713.0 667.1 714.7 668.4 714.8C669.8 715.0 671.5 713.3 673.0 712.1C674.5 710.9 676.1 707.7 677.5 707.6C678.9 707.4 680.1 709.6 681.1 711.2C682.2 712.9 682.6 716.1 683.8 717.5C685.0 719.0 686.7 720.0 688.3 719.9C690.0 719.7 692.1 718.4 693.8 716.6C695.4 714.9 696.9 712.4 698.3 709.4C699.7 706.4 700.7 702.2 701.9 698.5C703.1 694.9 704.2 690.6 705.5 687.7C706.9 684.8 708.4 683.0 710.1 681.4C711.7 679.7 713.7 679.3 715.5 677.7C717.3 676.2 719.3 674.4 720.9 672.3C722.6 670.2 723.9 667.0 725.4 665.1C726.9 663.1 728.5 661.5 730.0 660.6C731.5 659.7 732.8 659.4 734.5 659.7C736.1 660.0 738.1 660.7 739.9 662.4C741.7 664.0 743.7 666.6 745.3 669.6C747.0 672.6 748.4 675.9 749.9 680.5C751.4 685.0 752.9 690.7 754.4 696.7C755.9 702.8 757.4 710.3 758.9 716.6C760.4 723.0 761.9 729.9 763.4 734.7C764.9 739.6 766.4 743.3 768.0 745.6C769.5 747.8 771.0 748.6 772.5 748.3C774.0 748.0 775.5 746.6 777.0 743.8C778.5 740.9 780.2 736.2 781.5 731.1C782.9 726.0 783.9 719.1 785.1 713.0C786.3 707.0 787.6 700.7 788.8 694.9C790.0 689.2 791.2 682.7 792.4 678.6C793.6 674.6 794.6 672.2 796.0 670.5C797.3 668.8 799.0 668.4 800.5 668.7C802.0 669.0 803.5 670.1 805.0 672.3C806.5 674.6 808.1 678.8 809.6 682.3C811.1 685.7 812.6 690.5 814.1 693.1C815.6 695.8 817.1 697.3 818.6 698.2C820.1 699.1 821.6 699.2 823.1 698.5C824.6 697.9 826.1 696.7 827.7 694.0C829.2 691.3 830.7 686.9 832.2 682.3C833.7 677.6 835.2 671.4 836.7 666.0C838.2 660.6 839.6 654.2 841.2 649.7C842.9 645.2 844.5 641.9 846.6 638.8C848.8 635.8 851.0 633.6 853.9 631.6C856.7 629.7 860.1 628.3 863.8 627.1C867.6 625.9 871.7 625.1 876.5 624.4C881.3 623.6 884.0 623.0 892.8 622.6C901.5 622.1 915.7 621.7 928.9 621.7C942.2 621.6 957.9 622.0 972.4 622.3C986.8 622.6 1001.3 622.9 1015.8 623.4C1030.3 623.9 1044.7 624.7 1059.2 625.4C1073.7 626.2 1088.2 627.7 1102.6 627.8C1117.1 627.8 1131.6 626.1 1146.0 625.7C1160.5 625.4 1175.0 625.4 1189.5 625.7C1203.9 626.0 1218.4 626.7 1232.9 627.5C1247.4 628.2 1261.8 629.3 1276.3 630.4C1290.8 631.4 1305.2 632.8 1319.7 633.8C1334.2 634.9 1351.1 635.5 1363.1 636.7C1375.2 638.0 1382.4 640.0 1392.1 641.4C1401.7 642.8 1411.4 644.0 1421.0 645.1C1430.7 646.2 1441.3 646.8 1450.0 648.0C1458.7 649.2 1466.4 650.8 1473.1 652.4C1479.9 654.0 1485.7 655.6 1490.5 657.6C1495.3 659.5 1498.6 662.0 1502.1 663.9C1505.6 665.9 1506.1 667.8 1511.6 669.2C1517.0 670.5 1528.0 672.7 1534.7 672.0C1541.5 671.4 1546.8 667.4 1552.1 665.4C1557.4 663.4 1561.8 660.8 1566.6 660.2C1571.4 659.6 1575.7 660.3 1581.0 661.6C1586.4 663.0 1592.6 665.5 1598.4 668.3C1604.2 671.1 1611.0 675.9 1615.8 678.4C1620.6 681.0 1622.5 682.1 1627.4 683.6C1632.2 685.2 1638.9 685.8 1644.7 687.7C1650.5 689.6 1655.3 692.2 1662.1 695.2C1668.9 698.2 1677.5 702.7 1685.3 705.9C1693.0 709.1 1701.7 712.6 1708.4 714.6C1715.2 716.6 1720.0 717.8 1725.8 718.1C1731.6 718.3 1737.4 717.0 1743.1 716.0C1748.9 715.1 1753.8 713.8 1760.5 712.6C1767.3 711.4 1776.4 710.4 1783.7 708.8C1790.9 707.2 1797.2 705.3 1803.9 703.0C1810.7 700.8 1817.0 698.4 1824.2 695.2C1831.4 692.0 1838.7 688.4 1847.4 683.6C1856.0 678.9 1866.7 672.5 1876.3 666.8C1885.9 661.1 1896.6 654.5 1905.2 649.5C1913.9 644.4 1921.6 639.8 1928.4 636.4C1935.2 633.1 1940.0 631.0 1945.8 629.2C1951.6 627.4 1956.4 626.6 1963.1 625.7C1969.9 624.9 1976.6 624.5 1986.3 624.3C1995.9 624.0 2005.6 624.2 2021.0 624.3C2036.5 624.4 2059.1 624.8 2078.9 624.9C2098.8 625.0 2129.5 624.9 2140.0 624.9C2150.5 624.9 2141.7 624.9 2142.0 624.9" stroke="#ff00ff"/>
<path d="M180.8 449.6C181.1 448.4 181.8 445.8 182.7 442.2C183.6 438.5 184.8 430.7 186.3 427.7C187.8 424.7 190.5 422.3 191.7 424.1C192.9 425.9 193.0 433.1 193.5 438.5C194.1 444.0 194.6 450.9 195.0 456.6C195.3 462.4 195.0 468.4 195.7 472.9C196.4 477.4 198.0 480.2 198.9 483.8C199.9 487.4 200.8 491.0 201.7 494.6C202.6 498.2 203.2 502.3 204.4 505.5C205.6 508.7 207.1 512.0 208.9 513.6C210.7 515.3 213.4 515.4 215.2 515.4C217.0 515.4 218.2 513.2 219.8 513.6C221.3 514.1 222.8 516.8 224.3 518.2C225.8 519.5 227.4 520.1 228.8 521.8C230.2 523.4 231.1 526.9 232.4 528.1C233.8 529.3 235.0 529.6 236.9 529.0C238.9 528.4 241.8 525.6 244.2 524.5C246.6 523.3 249.0 522.7 251.4 522.1C253.8 521.5 256.2 521.8 258.6 520.9C261.1 519.9 263.5 517.8 265.9 516.3C268.3 514.9 270.7 513.6 273.1 512.4C275.5 511.2 277.9 510.7 280.4 509.1C282.8 507.5 285.2 504.4 287.6 502.8C290.0 501.1 292.7 500.7 294.8 499.2C296.9 497.6 298.4 496.0 300.3 493.7C302.1 491.5 303.6 488.1 305.7 485.6C307.8 483.1 310.5 480.5 312.9 478.7C315.3 477.0 318.0 475.6 320.2 475.1C322.3 474.6 323.8 476.3 325.6 475.6C327.4 475.0 329.4 473.2 331.0 471.1C332.7 469.0 333.9 465.8 335.5 463.0C337.2 460.1 339.0 456.3 341.0 453.9C342.9 451.5 345.3 449.9 347.3 448.5C349.3 447.1 350.8 447.3 352.7 445.8C354.7 444.3 356.9 441.0 359.1 439.5C361.2 437.9 363.1 437.2 365.4 436.7C367.6 436.3 370.2 436.9 372.6 436.7C375.0 436.6 377.7 435.4 379.9 435.8C382.0 436.3 383.6 439.0 385.3 439.5C386.9 439.9 388.3 439.3 389.8 438.5C391.3 437.8 392.8 435.1 394.3 434.9C395.8 434.8 397.3 435.5 398.9 437.6C400.4 439.8 401.9 445.0 403.4 447.6C404.9 450.2 406.2 452.7 407.9 453.0C409.6 453.3 411.5 450.8 413.3 449.4C415.1 448.0 417.1 445.8 418.8 444.9C420.4 444.0 421.6 443.4 423.3 444.0C424.9 444.6 427.0 446.4 428.7 448.5C430.4 450.6 431.7 453.2 433.2 456.6C434.7 460.1 436.2 465.4 437.8 469.3C439.3 473.2 440.9 476.2 442.3 480.2C443.6 484.1 444.8 488.0 445.9 492.8C446.9 497.6 447.9 503.7 448.6 509.1C449.4 514.5 449.8 519.7 450.4 525.4C451.0 531.1 451.5 536.8 452.2 543.5C453.0 550.1 453.9 558.3 454.9 565.2C456.0 572.1 457.4 580.3 458.6 585.1C459.8 589.9 460.8 592.2 462.2 594.1C463.5 596.1 465.2 597.0 466.7 596.8C468.2 596.7 469.9 595.5 471.2 593.2C472.6 591.0 473.5 587.3 474.8 583.3C476.2 579.2 477.7 573.3 479.4 568.8C481.0 564.3 483.1 560.7 484.8 556.1C486.4 551.6 487.7 545.9 489.3 541.7C491.0 537.4 492.9 534.1 494.7 530.8C496.5 527.5 498.7 524.8 500.2 521.8C501.7 518.8 502.7 516.9 503.8 512.7C504.8 508.5 505.6 501.3 506.5 496.4C507.4 491.6 508.2 486.5 509.2 483.8C510.3 481.1 511.6 479.3 512.8 480.2C514.0 481.1 515.1 486.2 516.4 489.2C517.8 492.2 519.6 497.3 521.0 498.2C522.3 499.2 523.4 497.6 524.6 494.6C525.8 491.6 527.2 485.1 528.2 480.2C529.3 475.2 529.9 468.4 530.9 464.8C532.0 461.2 533.3 459.2 534.5 458.4C535.7 457.7 537.1 457.8 538.2 460.3C539.2 462.7 539.8 469.0 540.9 472.9C541.9 476.8 543.6 481.8 544.5 483.8C545.4 485.7 545.4 485.6 546.3 484.7C547.2 483.8 548.9 483.0 550.0 478.3C551.0 473.7 551.8 464.2 552.7 456.6C553.6 449.1 554.5 440.4 555.4 433.1C556.3 425.9 556.9 418.3 558.1 413.2C559.3 408.1 561.1 404.8 562.6 402.4C564.1 400.0 565.8 398.7 567.1 398.7C568.5 398.7 569.7 400.3 570.8 402.4C571.8 404.5 572.1 409.6 573.5 411.4C574.8 413.2 577.1 412.3 578.9 413.2C580.7 414.1 582.5 415.5 584.3 416.8C586.1 418.2 587.8 420.3 589.8 421.4C591.7 422.4 594.3 422.1 596.1 423.2C597.9 424.2 599.2 425.9 600.6 427.7C602.0 429.5 602.7 432.7 604.2 434.0C605.7 435.4 608.3 434.2 609.7 435.8C611.0 437.5 611.3 442.2 612.4 444.0C613.4 445.8 614.8 446.8 616.0 446.7C617.2 446.5 618.5 444.7 619.6 443.1C620.7 441.4 621.3 437.8 622.3 436.7C623.4 435.7 624.7 435.8 625.9 436.7C627.1 437.6 628.2 441.0 629.6 442.2C630.9 443.4 632.6 444.0 634.1 444.0C635.6 444.0 637.1 442.9 638.6 442.2C640.1 441.4 641.6 439.8 643.1 439.5C644.6 439.2 646.0 439.3 647.6 440.4C649.3 441.4 651.3 444.0 653.1 445.8C654.9 447.6 657.0 448.8 658.5 451.2C660.0 453.6 661.1 457.1 662.1 460.3C663.2 463.4 663.9 467.5 664.8 470.2C665.7 472.9 666.5 475.5 667.5 476.5C668.6 477.6 670.0 477.6 671.2 476.5C672.4 475.5 673.4 471.1 674.8 470.2C676.1 469.3 678.1 469.5 679.3 471.1C680.5 472.8 681.0 477.6 682.0 480.2C683.1 482.7 684.3 485.7 685.6 486.5C687.0 487.2 688.7 486.2 690.2 484.7C691.7 483.2 693.3 480.8 694.7 477.4C696.0 474.1 697.2 469.2 698.3 464.8C699.4 460.4 700.1 455.6 701.0 451.2C701.9 446.8 702.7 441.7 703.7 438.5C704.8 435.4 705.8 434.2 707.3 432.2C708.9 430.3 711.0 428.6 712.8 426.8C714.6 425.0 716.5 423.5 718.2 421.4C719.9 419.3 721.2 416.1 722.7 414.1C724.2 412.2 725.7 410.6 727.2 409.6C728.8 408.6 730.1 408.0 731.8 408.2C733.4 408.3 735.5 409.1 737.2 410.5C738.9 412.0 740.2 413.7 741.7 416.8C743.2 420.0 744.9 424.7 746.2 429.5C747.6 434.3 748.7 439.8 749.9 445.8C751.1 451.8 752.3 459.1 753.5 465.7C754.7 472.3 755.9 479.0 757.1 485.6C758.3 492.2 759.5 499.8 760.7 505.5C761.9 511.2 763.1 516.8 764.3 520.0C765.5 523.1 766.7 523.6 768.0 524.5C769.2 525.4 770.4 525.8 771.6 525.4C772.8 524.9 774.0 524.2 775.2 521.8C776.4 519.4 777.6 515.7 778.8 510.9C780.0 506.1 781.2 499.5 782.4 492.8C783.6 486.2 784.8 478.3 786.0 471.1C787.2 463.9 788.5 456.0 789.7 449.4C790.9 442.8 792.1 435.8 793.3 431.3C794.5 426.8 795.5 424.2 796.9 422.3C798.3 420.3 799.9 419.3 801.4 419.6C802.9 419.9 804.6 421.2 805.9 424.1C807.3 426.9 808.4 432.5 809.6 436.7C810.8 441.0 812.0 446.1 813.2 449.4C814.4 452.7 815.4 455.1 816.8 456.6C818.2 458.1 819.8 458.8 821.3 458.4C822.8 458.1 824.5 457.2 825.8 454.8C827.2 452.4 828.3 448.5 829.5 444.0C830.7 439.5 831.9 434.0 833.1 427.7C834.3 421.4 835.5 412.6 836.7 406.0C837.9 399.4 839.0 393.0 840.3 387.9C841.7 382.8 843.0 378.7 844.8 375.2C846.6 371.8 848.6 369.2 851.2 367.1C853.7 365.0 856.9 363.9 860.2 362.6C863.5 361.2 867.2 360.0 871.1 358.9C875.0 357.9 878.6 356.9 883.7 356.2C888.9 355.6 891.9 355.2 901.8 355.0C911.8 354.7 929.3 354.8 943.4 354.7C957.6 354.7 972.4 354.3 986.8 354.7C1001.3 355.1 1015.8 356.3 1030.3 357.1C1044.7 357.8 1061.6 358.7 1073.7 359.4C1085.7 360.0 1093.0 361.0 1102.6 361.1C1112.3 361.2 1117.1 360.1 1131.6 359.9C1146.0 359.8 1172.6 359.7 1189.5 359.9C1206.3 360.2 1218.4 360.9 1232.9 361.7C1247.4 362.5 1261.8 363.6 1276.3 364.9C1290.8 366.1 1305.2 367.8 1319.7 369.2C1334.2 370.7 1351.1 372.0 1363.1 373.6C1375.2 375.1 1382.4 377.2 1392.1 378.8C1401.7 380.4 1411.4 381.7 1421.0 383.1C1430.7 384.5 1441.3 385.7 1450.0 387.4C1458.7 389.2 1466.4 391.5 1473.1 393.8C1479.9 396.1 1485.7 398.4 1490.5 401.0C1495.3 403.7 1498.6 407.1 1502.1 409.7C1505.6 412.4 1506.1 415.1 1511.6 417.0C1517.0 418.8 1528.0 421.2 1534.7 420.7C1541.5 420.3 1546.8 416.3 1552.1 414.1C1557.4 411.9 1561.8 408.4 1566.6 407.4C1571.4 406.5 1575.7 406.5 1581.0 408.3C1586.4 410.1 1592.6 414.6 1598.4 418.4C1604.2 422.3 1611.0 428.2 1615.8 431.4C1620.6 434.7 1622.5 436.5 1627.4 438.1C1632.2 439.7 1638.9 439.1 1644.7 441.0C1650.5 442.9 1655.3 446.0 1662.1 449.7C1668.9 453.4 1677.5 459.3 1685.3 463.3C1693.0 467.2 1701.7 470.9 1708.4 473.4C1715.2 476.0 1720.0 478.4 1725.8 478.6C1731.6 478.9 1737.4 476.5 1743.1 474.9C1748.9 473.3 1753.8 470.9 1760.5 469.1C1767.3 467.3 1776.4 466.1 1783.7 464.2C1790.9 462.2 1797.2 460.3 1803.9 457.5C1810.7 454.7 1817.0 451.7 1824.2 447.4C1831.4 443.0 1838.7 437.7 1847.4 431.4C1856.0 425.2 1866.7 417.0 1876.3 409.7C1885.9 402.5 1896.6 394.3 1905.2 388.0C1913.9 381.8 1921.6 376.3 1928.4 372.1C1935.2 367.9 1940.0 365.1 1945.8 362.8C1951.6 360.6 1956.4 359.5 1963.1 358.5C1969.9 357.5 1976.6 357.3 1986.3 357.1C1995.9 356.8 2005.6 357.1 2021.0 357.1C2036.5 357.1 2059.1 357.1 2078.9 357.1C2098.8 357.1 2129.5 357.1 2140.0 357.1C2150.5 357.1 2141.7 357.1 2142.0 357.1" stroke="#008000"/>
<path d="M180.8 187.0C181.1 185.5 181.8 182.3 182.7 177.7C183.6 173.1 184.8 161.1 186.3 159.6C187.8 158.1 190.4 163.8 191.7 168.6C193.1 173.5 193.7 182.2 194.4 188.5C195.2 194.9 195.6 200.9 196.2 206.6C196.8 212.4 197.3 218.1 198.0 222.9C198.8 227.7 199.9 231.4 200.8 235.6C201.7 239.8 202.6 245.1 203.5 248.2C204.4 251.4 205.0 252.9 206.2 254.6C207.4 256.2 209.2 256.8 210.7 258.2C212.2 259.6 213.9 262.9 215.2 262.7C216.6 262.6 217.6 258.4 218.8 257.3C220.1 256.2 221.3 255.8 222.5 256.4C223.7 257.0 224.9 259.0 226.1 260.9C227.3 262.9 228.0 265.7 229.7 268.2C231.4 270.6 233.9 274.8 236.0 275.4C238.1 276.0 240.1 273.1 242.4 271.8C244.6 270.4 247.2 268.2 249.6 267.2C252.0 266.3 254.4 266.9 256.8 266.3C259.3 265.7 262.0 264.8 264.1 263.6C266.2 262.4 267.7 260.5 269.5 259.1C271.3 257.7 273.1 256.4 274.9 255.5C276.7 254.6 278.5 254.6 280.4 253.7C282.2 252.8 284.0 251.7 285.8 250.1C287.6 248.4 289.1 245.4 291.2 243.7C293.3 242.1 296.3 241.8 298.4 240.1C300.6 238.5 302.1 235.9 303.9 233.8C305.7 231.7 307.2 229.6 309.3 227.4C311.4 225.3 314.1 222.7 316.5 221.1C319.0 219.5 321.7 218.8 323.8 217.9C325.9 217.0 327.4 217.6 329.2 215.7C331.0 213.8 332.8 209.5 334.6 206.6C336.4 203.8 338.2 200.8 340.1 198.5C341.9 196.2 343.4 194.6 345.5 193.1C347.6 191.6 350.3 191.3 352.7 189.5C355.1 187.6 357.5 184.2 360.0 182.2C362.4 180.3 364.8 178.7 367.2 177.7C369.6 176.6 372.3 176.3 374.4 175.9C376.5 175.4 378.2 174.4 379.9 175.0C381.5 175.6 382.9 178.5 384.4 179.5C385.9 180.5 387.2 181.6 388.9 180.9C390.6 180.3 392.7 176.4 394.3 175.9C396.0 175.3 397.5 175.9 398.9 177.7C400.2 179.5 401.1 184.6 402.5 186.7C403.8 188.9 405.5 190.7 407.0 190.7C408.5 190.7 410.0 188.4 411.5 186.7C413.0 185.1 414.4 182.2 416.0 180.9C417.7 179.7 419.7 179.6 421.5 179.5C423.3 179.4 425.1 179.5 426.9 180.4C428.7 181.3 430.8 182.4 432.3 184.9C433.8 187.5 434.9 192.2 435.9 195.8C437.0 199.4 437.5 203.6 438.7 206.6C439.9 209.7 441.7 210.9 443.2 213.9C444.7 216.9 446.5 220.5 447.7 224.7C448.9 229.0 449.7 233.8 450.4 239.2C451.2 244.6 451.6 251.3 452.2 257.3C452.8 263.3 453.4 269.7 454.0 275.4C454.6 281.1 455.1 285.9 455.8 291.7C456.6 297.4 457.5 304.6 458.6 309.8C459.6 314.9 460.8 319.3 462.2 322.4C463.5 325.6 465.3 327.6 466.7 328.8C468.1 330.0 469.0 330.4 470.3 329.7C471.7 328.9 473.5 326.9 474.8 324.2C476.2 321.5 477.3 317.0 478.5 313.4C479.7 309.8 480.7 306.0 482.1 302.5C483.4 299.1 485.1 295.7 486.6 292.6C488.1 289.4 489.5 285.8 491.1 283.5C492.8 281.3 494.9 281.3 496.5 279.0C498.2 276.7 499.7 274.2 501.1 270.0C502.4 265.7 503.6 259.1 504.7 253.7C505.7 248.2 506.5 242.2 507.4 237.4C508.3 232.6 509.1 227.0 510.1 224.7C511.2 222.5 512.5 222.0 513.7 223.8C514.9 225.6 516.0 232.3 517.4 235.6C518.7 238.9 520.5 243.1 521.9 243.7C523.2 244.3 524.4 242.7 525.5 239.2C526.6 235.7 527.3 228.3 528.2 222.9C529.1 217.5 530.0 210.7 530.9 206.6C531.8 202.6 532.6 200.0 533.6 198.5C534.7 197.0 536.2 196.5 537.3 197.6C538.3 198.6 538.9 201.2 540.0 204.8C541.0 208.4 542.5 216.0 543.6 219.3C544.6 222.6 545.3 224.7 546.3 224.7C547.4 224.7 548.9 224.1 550.0 219.3C551.0 214.5 551.8 203.3 552.7 195.8C553.6 188.2 554.3 180.1 555.4 174.1C556.4 168.0 557.6 163.4 559.0 159.6C560.4 155.8 562.2 153.4 563.5 151.5C564.9 149.5 565.9 147.8 567.1 147.8C568.3 147.8 569.7 149.5 570.8 151.5C571.8 153.4 572.1 157.9 573.5 159.6C574.8 161.3 577.1 160.4 578.9 161.4C580.7 162.5 582.5 164.4 584.3 165.9C586.1 167.4 587.8 169.7 589.8 170.5C591.7 171.2 594.3 169.6 596.1 170.5C597.9 171.4 599.2 173.8 600.6 175.9C602.0 178.0 602.7 181.6 604.2 183.1C605.7 184.6 608.3 183.1 609.7 184.9C611.0 186.7 611.3 192.0 612.4 194.0C613.4 195.9 614.8 197.0 616.0 196.7C617.2 196.4 618.5 194.0 619.6 192.2C620.7 190.4 621.3 186.9 622.3 185.8C623.4 184.8 624.7 184.9 625.9 185.8C627.1 186.7 628.2 189.8 629.6 191.3C630.9 192.8 632.6 194.7 634.1 194.9C635.6 195.0 637.1 193.5 638.6 192.2C640.1 190.8 641.5 187.6 643.1 186.7C644.8 185.8 646.7 185.8 648.5 186.7C650.4 187.6 652.3 190.1 654.0 192.2C655.6 194.3 657.1 196.4 658.5 199.4C659.9 202.4 661.1 206.3 662.1 210.3C663.2 214.2 663.9 219.6 664.8 222.9C665.7 226.2 666.5 228.8 667.5 230.2C668.6 231.5 670.0 231.8 671.2 231.1C672.4 230.3 673.6 226.5 674.8 225.6C676.0 224.7 677.3 224.0 678.4 225.6C679.5 227.3 680.1 232.7 681.1 235.6C682.2 238.5 683.4 241.9 684.7 242.8C686.1 243.7 687.7 242.5 689.3 241.0C690.8 239.5 692.4 237.4 693.8 233.8C695.1 230.2 696.3 224.4 697.4 219.3C698.5 214.2 699.2 208.1 700.1 203.0C701.0 197.9 701.8 192.2 702.8 188.5C703.9 184.9 704.9 183.4 706.4 181.3C707.9 179.2 709.9 177.8 711.9 175.9C713.8 173.9 716.2 171.7 718.2 169.6C720.2 167.4 721.8 164.9 723.6 163.2C725.4 161.6 727.2 159.9 729.1 159.6C730.9 159.3 732.8 160.2 734.5 161.4C736.1 162.6 737.5 164.4 739.0 166.8C740.5 169.3 742.2 172.0 743.5 175.9C744.9 179.8 745.9 184.6 747.1 190.4C748.4 196.1 749.6 203.3 750.8 210.3C752.0 217.2 753.2 224.7 754.4 232.0C755.6 239.2 756.8 246.7 758.0 253.7C759.2 260.6 760.4 268.8 761.6 273.6C762.8 278.4 763.9 280.7 765.2 282.6C766.6 284.6 768.3 285.5 769.8 285.3C771.3 285.2 772.9 284.3 774.3 281.7C775.6 279.2 776.7 274.9 777.9 270.0C779.1 265.0 780.3 258.5 781.5 251.9C782.7 245.2 783.9 237.4 785.1 230.2C786.3 222.9 787.6 215.4 788.8 208.4C790.0 201.5 791.2 193.7 792.4 188.5C793.6 183.4 794.6 180.4 796.0 177.7C797.3 175.0 799.0 172.7 800.5 172.3C802.0 171.8 803.7 172.6 805.0 175.0C806.4 177.4 807.5 182.4 808.7 186.7C809.9 191.1 811.1 197.4 812.3 201.2C813.5 205.0 814.5 207.5 815.9 209.4C817.3 211.2 818.9 212.2 820.4 212.1C821.9 211.9 823.6 211.2 824.9 208.4C826.3 205.7 827.4 200.9 828.6 195.8C829.8 190.7 831.0 184.6 832.2 177.7C833.4 170.8 834.6 161.1 835.8 154.2C837.0 147.2 838.1 141.2 839.4 136.1C840.8 131.0 842.1 127.0 843.9 123.4C845.7 119.8 847.9 116.8 850.3 114.4C852.7 112.0 855.2 110.5 858.4 108.9C861.6 107.4 865.0 106.6 869.3 105.3C873.5 104.1 878.3 102.3 883.7 101.3C889.2 100.4 894.3 100.1 901.8 99.5C909.4 99.0 917.2 98.4 928.9 98.2C940.7 98.0 957.9 97.9 972.4 98.2C986.8 98.5 1001.3 99.3 1015.8 99.9C1030.3 100.6 1044.7 101.4 1059.2 102.3C1073.7 103.1 1088.2 104.7 1102.6 104.9C1117.1 105.1 1131.6 103.7 1146.0 103.4C1160.5 103.2 1175.0 103.2 1189.5 103.4C1203.9 103.7 1218.4 104.3 1232.9 104.9C1247.4 105.4 1261.8 105.9 1276.3 106.9C1290.8 107.9 1305.2 109.6 1319.7 110.9C1334.2 112.3 1351.1 113.5 1363.1 115.0C1375.2 116.5 1382.4 118.4 1392.1 120.2C1401.7 122.0 1411.4 124.4 1421.0 126.0C1430.7 127.6 1441.3 128.3 1450.0 130.0C1458.7 131.8 1466.4 134.4 1473.1 136.7C1479.9 139.0 1485.9 141.3 1490.5 143.9C1495.1 146.6 1497.5 149.9 1500.6 152.6C1503.8 155.4 1507.5 159.1 1509.3 160.4C1511.1 161.8 1507.3 160.2 1511.6 160.7C1515.8 161.3 1528.0 164.0 1534.7 163.6C1541.5 163.2 1546.8 160.3 1552.1 158.4C1557.4 156.6 1561.8 153.4 1566.6 152.6C1571.4 151.8 1575.7 151.6 1581.0 153.5C1586.4 155.4 1592.6 160.0 1598.4 164.2C1604.2 168.4 1611.0 175.3 1615.8 178.7C1620.6 182.1 1622.5 183.2 1627.4 184.5C1632.2 185.8 1638.9 184.8 1644.7 186.5C1650.5 188.2 1655.3 191.1 1662.1 194.6C1668.9 198.1 1677.5 203.8 1685.3 207.6C1693.0 211.5 1701.9 215.1 1708.4 217.8C1714.9 220.4 1719.0 223.1 1724.3 223.5C1729.6 224.0 1734.2 222.3 1740.3 220.7C1746.3 219.0 1753.3 215.5 1760.5 213.4C1767.8 211.3 1776.4 210.1 1783.7 208.2C1790.9 206.3 1797.2 204.6 1803.9 201.8C1810.7 199.1 1817.0 196.0 1824.2 191.7C1831.4 187.4 1838.7 181.8 1847.4 175.8C1856.0 169.8 1866.7 162.5 1876.3 155.5C1885.9 148.5 1896.6 140.1 1905.2 133.8C1913.9 127.5 1921.6 122.2 1928.4 117.9C1935.2 113.6 1940.0 110.4 1945.8 107.8C1951.6 105.1 1956.4 103.2 1963.1 102.0C1969.9 100.8 1976.6 100.9 1986.3 100.5C1995.9 100.2 2005.6 100.0 2021.0 99.9C2036.5 99.8 2059.1 99.9 2078.9 99.9C2098.8 99.9 2129.5 99.9 2140.0 99.9C2150.5 99.9 2141.7 99.9 2142.0 99.9" stroke="#000080"/>
</g>
<g class="t">
<text x="2125" y="93.6" text-anchor="end" style="font-size:86.5px">B2</text>
<text x="2123.5" y="342.9" text-anchor="end" style="font-size:86.5px">B1</text>
<text x="2123.5" y="612.6" text-anchor="end" style="font-size:86.5px">B2</text>
<text x="2123.5" y="855.5" text-anchor="end" style="font-size:86.5px">B1</text>
<text x="1831" y="1109" style="font-size:88px">dextran</text>
<text x="1802" y="1292.9" style="font-size:88px">chitosan</text>
<text x="461.8" y="1590.8" text-anchor="middle">1000</text>
<text x="1018.8" y="1590.8" text-anchor="middle">2000</text>
<text x="1579.2" y="1590.8" text-anchor="middle">3000</text>
<text x="2136.5" y="1590.8" text-anchor="middle">4000</text>
</g>
<g clip-path="url(#cl)"><text class="l" x="748.2" y="1691.8" font-size="94.3">Wavenumber (cm<tspan dy="-45.9" font-size="56">-1</tspan><tspan dy="45.9">)</tspan></text></g>
<text class="l" font-size="94.7" transform="translate(83,1172.5) rotate(-90)">Transmittance (a.u.)</text>
</svg>
</body></html>
